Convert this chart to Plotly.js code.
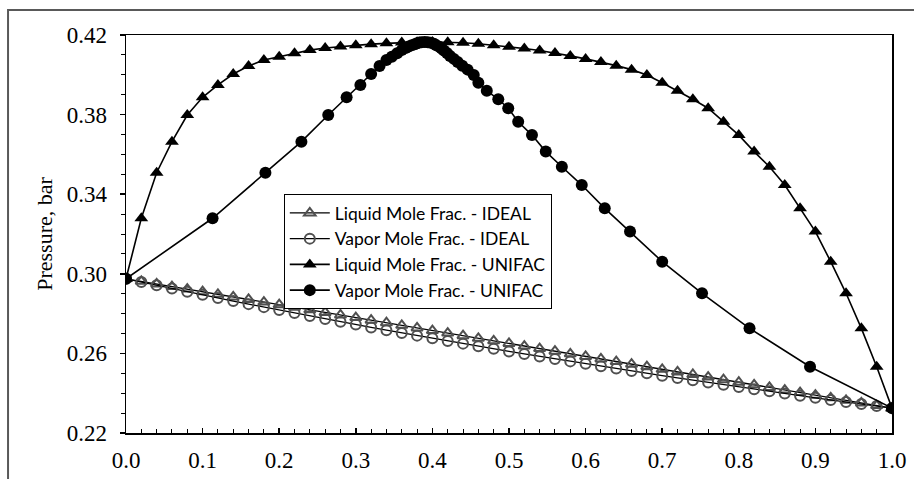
<!DOCTYPE html>
<html>
<head>
<meta charset="utf-8">
<script src="https://cdn.plot.ly/plotly-3.0.1.min.js"></script>
<style>
html,body{margin:0;padding:0;background:#fff;}
#chart{width:914px;height:479px;}
</style>
</head>
<body>
<div id="chart"></div>
<script>
// Liquid mole fraction grid (x) used by liquid series
const xLiquid = [0.00,0.02,0.04,0.06,0.08,0.10,0.12,0.14,0.16,0.18,0.20,0.22,0.24,0.26,0.28,0.30,0.32,0.34,0.36,0.38,0.40,0.42,0.44,0.46,0.48,0.50,0.52,0.54,0.56,0.58,0.60,0.62,0.64,0.66,0.68,0.70,0.72,0.74,0.76,0.78,0.80,0.82,0.84,0.86,0.88,0.90,0.92,0.94,0.96,0.98,1.00];

// IDEAL: liquid-line pressures
const pIdealLiquid = [0.2975,0.2962,0.2949,0.2936,0.2923,0.2910,0.2897,0.2884,0.2871,0.2858,0.2845,0.2832,0.2819,0.2806,0.2793,0.2780,0.2767,0.2754,0.2741,0.2728,0.2715,0.2702,0.2689,0.2676,0.2663,0.2650,0.2637,0.2624,0.2611,0.2598,0.2585,0.2572,0.2559,0.2546,0.2533,0.2520,0.2507,0.2494,0.2481,0.2468,0.2455,0.2442,0.2429,0.2416,0.2403,0.2390,0.2377,0.2364,0.2351,0.2338,0.2325];

// IDEAL: vapor-line pressures (plotted at the same mole-fraction grid)
const xIdealVapor = [0.00,0.02,0.04,0.06,0.08,0.10,0.12,0.14,0.16,0.18,0.20,0.22,0.24,0.26,0.28,0.30,0.32,0.34,0.36,0.38,0.40,0.42,0.44,0.46,0.48,0.50,0.52,0.54,0.56,0.58,0.60,0.62,0.64,0.66,0.68,0.70,0.72,0.74,0.76,0.78,0.80,0.82,0.84,0.86,0.88,0.90,0.92,0.94,0.96,0.98,1.00];
const pIdealVapor = [0.29750,0.29585,0.29421,0.29259,0.29099,0.28941,0.28784,0.28629,0.28476,0.28325,0.28175,0.28026,0.27879,0.27734,0.27590,0.27448,0.27307,0.27168,0.27030,0.26893,0.26758,0.26624,0.26491,0.26360,0.26230,0.26101,0.25974,0.25848,0.25723,0.25599,0.25477,0.25355,0.25235,0.25116,0.24998,0.24881,0.24765,0.24650,0.24537,0.24424,0.24312,0.24202,0.24092,0.23984,0.23876,0.23769,0.23664,0.23559,0.23455,0.23352,0.23250];

// UNIFAC: pressures at each liquid mole fraction
const pUnifac = [0.2975,0.3279,0.3508,0.3664,0.3798,0.3887,0.3949,0.4004,0.4044,0.4074,0.4091,0.4108,0.4124,0.4135,0.4142,0.4149,0.4154,0.4158,0.4162,0.4164,0.4165,0.4164,0.4161,0.4156,0.4149,0.4141,0.4132,0.4122,0.4110,0.4095,0.4080,0.4064,0.4046,0.4026,0.3999,0.3960,0.3920,0.3877,0.3832,0.3764,0.3697,0.3614,0.3538,0.3446,0.3329,0.3212,0.3061,0.2902,0.2726,0.2533,0.2325];

// UNIFAC: vapor mole fractions in equilibrium
const yUnifac = [0.000,0.113,0.182,0.229,0.264,0.288,0.306,0.320,0.331,0.340,0.347,0.354,0.360,0.365,0.369,0.373,0.377,0.380,0.383,0.386,0.390,0.394,0.398,0.402,0.405,0.409,0.412,0.415,0.419,0.423,0.428,0.433,0.439,0.446,0.454,0.460,0.471,0.486,0.499,0.512,0.530,0.548,0.569,0.595,0.625,0.658,0.700,0.752,0.814,0.893,1.000];

const seriesNames = ["Liquid Mole Frac. - IDEAL","Vapor Mole Frac. - IDEAL","Liquid Mole Frac. - UNIFAC","Vapor Mole Frac. - UNIFAC"];
const xTickVals = [0,0.1,0.2,0.3,0.4,0.5,0.6,0.7,0.8,0.9,1.0];
const xTickText = ["0.0","0.1","0.2","0.3","0.4","0.5","0.6","0.7","0.8","0.9","1.0"];
const yTickVals = [0.22,0.26,0.30,0.34,0.38,0.42];
const yTickText = ["0.22","0.26","0.30","0.34","0.38","0.42"];

const traces = [
  {x:xLiquid, y:pIdealLiquid, name:seriesNames[0], mode:'lines+markers', legendgroup:'a',
   line:{color:'#000',width:1.3},
   marker:{symbol:'triangle-up-open', size:10, color:'#505050', line:{width:2,color:'#505050'}}},
  {x:xIdealVapor, y:pIdealVapor, name:seriesNames[1], mode:'lines+markers', legendgroup:'b',
   line:{color:'#000',width:1.3},
   marker:{symbol:'circle-open', size:10, color:'#505050', line:{width:2,color:'#505050'}}},
  {x:xLiquid, y:pUnifac, name:seriesNames[2], mode:'lines+markers', legendgroup:'c',
   line:{color:'#000',width:1.6},
   marker:{symbol:'triangle-up', size:12, color:'#000'}},
  {x:yUnifac, y:pUnifac, name:seriesNames[3], mode:'lines+markers', legendgroup:'d',
   line:{color:'#000',width:1.6},
   marker:{symbol:'circle', size:12, color:'#000'}}
];

const serif = 'Liberation Serif, Times New Roman, serif';
const layout = {
  width:914, height:479,
  margin:{l:126, r:22, t:35, b:46},
  paper_bgcolor:'#fff', plot_bgcolor:'#fff',
  showlegend:true,
  legend:{x:0.206, y:0.6005, xanchor:'left', yanchor:'top',
    bgcolor:'#fff', bordercolor:'#000', borderwidth:1,
    font:{family:'Lato, Open Sans, sans-serif', size:17.5, color:'#000'},
    tracegroupgap:0, itemwidth:40},
  xaxis:{range:[0,1], tickmode:'array', tickvals:xTickVals, ticktext:xTickText,
    ticks:'inside', ticklen:5, tickwidth:1.5, tickcolor:'#000',
    minor:{dtick:0.02, tick0:0, ticks:'inside', ticklen:4, tickwidth:1, tickcolor:'#000', showgrid:false},
    showline:true, linecolor:'#000', linewidth:1.5, mirror:true,
    showgrid:false, zeroline:false,
    tickfont:{family:serif, size:23, color:'#000'}, ticklabelstandoff:6},
  yaxis:{range:[0.22,0.42], tickmode:'array', tickvals:yTickVals, ticktext:yTickText,
    ticks:'outside', ticklen:5, tickwidth:1.5, tickcolor:'#000',
    minor:{dtick:0.01, tick0:0.22, ticks:'outside', ticklen:4, tickwidth:1, tickcolor:'#000', showgrid:false},
    showline:true, linecolor:'#000', linewidth:1.5, mirror:true,
    showgrid:false, zeroline:false,
    tickfont:{family:serif, size:23, color:'#000'}, ticklabelstandoff:8,
    title:{text:'Pressure, bar', font:{family:serif, size:22, color:'#000'}, standoff:8}},
  shapes:[{type:'rect', xref:'paper', yref:'paper', x0:-0.154, x1:1.04, y0:-0.2, y1:1.0628,
    line:{color:'#595959', width:2}, layer:'below'}]
};

Plotly.newPlot('chart', traces, layout, {staticPlot:true, displayModeBar:false});
</script>
</body>
</html>
